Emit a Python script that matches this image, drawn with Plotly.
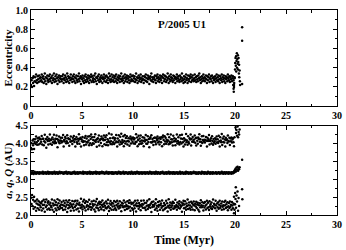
import plotly.graph_objects as go

# ---------------- data ----------------
# main integration output, sampled every 0.05 Myr from 0 to ~19.95 Myr
time_step_myr = 0.05

ecc_main = [
0.22,0.27,0.20,0.29,0.24,0.31,0.21,0.26,0.30,0.25,0.33,0.27,0.24,0.31,0.28,0.25,0.32,0.29,0.26,0.30,
0.27,0.33,0.25,0.29,0.31,0.24,0.28,0.34,0.26,0.30,0.23,0.29,0.32,0.27,0.25,0.31,0.28,0.33,0.26,0.29,
0.30,0.24,0.32,0.27,0.29,0.34,0.25,0.28,0.31,0.26,0.33,0.29,0.23,0.30,0.27,0.32,0.25,0.29,0.31,0.28,
0.26,0.31,0.28,0.33,0.24,0.29,0.27,0.32,0.30,0.25,0.28,0.34,0.26,0.31,0.29,0.24,0.30,0.27,0.33,0.28,
0.29,0.25,0.31,0.28,0.33,0.26,0.30,0.24,0.29,0.32,0.27,0.25,0.31,0.28,0.34,0.26,0.29,0.31,0.23,0.30,
0.28,0.32,0.26,0.29,0.24,0.31,0.27,0.33,0.25,0.30,0.28,0.26,0.32,0.29,0.24,0.31,0.27,0.30,0.33,0.25,
0.31,0.27,0.29,0.25,0.32,0.28,0.34,0.26,0.30,0.23,0.29,0.31,0.27,0.33,0.25,0.28,0.30,0.26,0.32,0.29,
0.24,0.30,0.28,0.33,0.26,0.29,0.31,0.25,0.32,0.27,0.30,0.24,0.29,0.34,0.27,0.31,0.25,0.28,0.33,0.26,
0.30,0.27,0.32,0.25,0.29,0.31,0.26,0.33,0.28,0.24,0.30,0.27,0.32,0.29,0.25,0.31,0.28,0.34,0.26,0.29,
0.27,0.31,0.24,0.29,0.33,0.26,0.30,0.28,0.32,0.25,0.29,0.31,0.27,0.24,0.30,0.33,0.26,0.28,0.31,0.27,
0.32,0.26,0.29,0.31,0.25,0.28,0.34,0.27,0.30,0.24,0.29,0.32,0.26,0.30,0.28,0.33,0.25,0.29,0.27,0.31,
0.28,0.24,0.31,0.27,0.30,0.33,0.26,0.29,0.25,0.32,0.28,0.30,0.23,0.29,0.31,0.27,0.34,0.26,0.30,0.28,
0.25,0.30,0.28,0.32,0.27,0.24,0.31,0.29,0.33,0.26,0.30,0.28,0.25,0.32,0.29,0.27,0.31,0.24,0.30,0.33,
0.29,0.26,0.32,0.28,0.31,0.25,0.30,0.27,0.34,0.29,0.24,0.31,0.28,0.26,0.33,0.30,0.27,0.29,0.25,0.32,
0.27,0.31,0.29,0.24,0.30,0.28,0.33,0.26,0.29,0.31,0.27,0.25,0.32,0.28,0.30,0.26,0.34,0.29,0.27,0.24,
0.31,0.28,0.25,0.30,0.33,0.27,0.29,0.24,0.32,0.28,0.26,0.31,0.29,0.33,0.25,0.30,0.27,0.32,0.28,0.26,
0.29,0.33,0.27,0.30,0.25,0.31,0.28,0.26,0.32,0.29,0.34,0.27,0.30,0.24,0.28,0.31,0.26,0.29,0.33,0.27,
0.30,0.26,0.29,0.32,0.28,0.24,0.31,0.27,0.30,0.33,0.25,0.29,0.28,0.31,0.26,0.32,0.29,0.24,0.30,0.27,
0.28,0.31,0.25,0.29,0.33,0.27,0.30,0.26,0.32,0.28,0.24,0.31,0.29,0.27,0.33,0.25,0.30,0.28,0.32,0.26,
0.29,0.24,0.31,0.28,0.30,0.26,0.33,0.29,0.27,0.31,0.25,0.30,0.28,0.32,0.26,0.29,0.31,0.27,0.22,0.29,
]

a_main = [
3.18,3.16,3.20,3.17,3.19,3.15,3.18,3.21,3.17,3.19,3.16,3.18,3.20,3.17,3.19,3.18,3.16,3.20,3.18,3.17,
3.19,3.17,3.18,3.21,3.16,3.19,3.18,3.17,3.20,3.18,3.16,3.19,3.17,3.21,3.18,3.16,3.19,3.20,3.17,3.18,
3.17,3.20,3.16,3.18,3.19,3.17,3.21,3.18,3.16,3.19,3.18,3.20,3.17,3.16,3.19,3.18,3.21,3.17,3.18,3.19,
3.20,3.18,3.17,3.19,3.16,3.18,3.20,3.17,3.19,3.21,3.18,3.16,3.19,3.17,3.20,3.18,3.17,3.19,3.16,3.18,
3.16,3.19,3.18,3.20,3.17,3.21,3.18,3.16,3.19,3.17,3.18,3.20,3.16,3.19,3.18,3.17,3.20,3.18,3.19,3.17,
3.18,3.17,3.21,3.16,3.19,3.18,3.20,3.17,3.18,3.19,3.16,3.20,3.18,3.17,3.19,3.21,3.16,3.18,3.20,3.17,
3.19,3.16,3.18,3.20,3.17,3.19,3.18,3.21,3.16,3.18,3.20,3.17,3.19,3.18,3.16,3.20,3.17,3.19,3.18,3.21,
3.17,3.19,3.20,3.18,3.16,3.18,3.19,3.17,3.21,3.18,3.17,3.19,3.16,3.20,3.18,3.17,3.19,3.18,3.20,3.16,
3.20,3.18,3.16,3.19,3.18,3.17,3.20,3.19,3.17,3.16,3.19,3.18,3.21,3.17,3.18,3.20,3.16,3.19,3.17,3.18,
3.18,3.21,3.17,3.16,3.19,3.18,3.20,3.17,3.19,3.18,3.16,3.17,3.20,3.18,3.19,3.16,3.18,3.21,3.17,3.19,
3.16,3.18,3.19,3.17,3.20,3.16,3.18,3.19,3.21,3.17,3.18,3.20,3.16,3.19,3.17,3.18,3.20,3.17,3.16,3.19,
3.19,3.17,3.18,3.20,3.16,3.19,3.17,3.18,3.20,3.19,3.16,3.18,3.17,3.21,3.19,3.18,3.16,3.20,3.18,3.17,
3.17,3.20,3.18,3.16,3.19,3.21,3.17,3.18,3.16,3.20,3.19,3.17,3.18,3.16,3.20,3.18,3.19,3.17,3.21,3.18,
3.18,3.16,3.19,3.17,3.18,3.20,3.16,3.19,3.18,3.17,3.21,3.19,3.16,3.18,3.20,3.17,3.18,3.19,3.16,3.20,
3.20,3.17,3.16,3.19,3.18,3.17,3.20,3.18,3.16,3.19,3.17,3.18,3.21,3.16,3.19,3.18,3.17,3.20,3.18,3.16,
3.17,3.19,3.18,3.16,3.21,3.18,3.17,3.20,3.19,3.16,3.18,3.17,3.19,3.20,3.16,3.18,3.19,3.17,3.18,3.21,
3.19,3.18,3.17,3.20,3.16,3.18,3.19,3.17,3.16,3.20,3.18,3.19,3.17,3.18,3.16,3.21,3.19,3.18,3.17,3.20,
3.16,3.20,3.18,3.17,3.19,3.16,3.18,3.21,3.17,3.19,3.18,3.16,3.20,3.17,3.18,3.19,3.16,3.20,3.18,3.17,
3.18,3.17,3.20,3.19,3.16,3.18,3.17,3.19,3.20,3.18,3.16,3.19,3.17,3.18,3.21,3.17,3.19,3.16,3.18,3.20,
3.19,3.16,3.18,3.20,3.17,3.19,3.18,3.16,3.20,3.18,3.17,3.19,3.18,3.16,3.20,3.19,3.17,3.18,3.22,3.24,
]

# escape phase (after ~19.8 Myr)
t_tail_e = [19.82,19.86,19.88,19.90,19.92,19.96,20.00,20.02,20.05,20.08,20.10,20.12,20.15,20.18,20.20,
            20.22,20.25,20.28,20.30,20.32,20.35,20.38,20.40,20.42,20.45,20.48,20.50,20.70,20.70,20.70]
e_tail = [0.22,0.18,0.15,0.20,0.24,0.30,0.38,0.45,0.50,0.42,0.52,0.36,0.47,0.55,0.40,
          0.49,0.44,0.53,0.38,0.46,0.50,0.34,0.43,0.30,0.37,0.26,0.22,0.82,0.68,0.23]

t_tail_Q = [20.05,20.10,20.15,20.20,20.25,20.30,20.35,20.40,20.45]
Q_tail = [4.45,4.30,4.38,4.22,4.48,4.18,4.33,4.26,4.40]

t_tail_a = [19.95,20.00,20.05,20.10,20.15,20.20,20.25,20.30,20.35,20.40,20.45,20.70]
a_tail = [3.20,3.26,3.30,3.22,3.33,3.27,3.35,3.24,3.31,3.28,3.34,3.55]

t_tail_q = [19.90,19.95,20.00,20.02,20.05,20.08,20.10,20.15,20.20,20.25,20.30,20.35,20.40,20.70,20.72]
q_tail = [2.05,2.15,2.30,2.62,2.45,2.78,2.20,2.55,2.38,2.66,2.12,2.48,2.25,2.72,2.44]

x_ticks = [0, 5, 10, 15, 20, 25, 30]
e_ticks = [0, 0.2, 0.4, 0.6, 0.8, 1.0]
e_ticktext = ["0", "0.2", "0.4", "0.6", "0.8", "1.0"]
aqQ_ticks = [2.0, 2.5, 3.0, 3.5, 4.0, 4.5]
aqQ_ticktext = ["2.0", "2.5", "3.0", "3.5", "4.0", "4.5"]

# ---------------- derived ----------------
n = min(len(ecc_main), len(a_main))
t_main = [round(i * time_step_myr, 2) for i in range(n)]
ecc = ecc_main[:n]
a_vals = a_main[:n]
q_main = [a * (1 - e) for a, e in zip(a_vals, ecc)]
Q_main = [a * (1 + e) for a, e in zip(a_vals, ecc)]

FONT = "Liberation Serif"
mk = dict(color="black", size=2.5, line=dict(width=0))

fig = go.Figure()
fig.add_trace(go.Scatter(x=t_main, y=ecc, mode="markers", marker=mk, xaxis="x", yaxis="y"))
fig.add_trace(go.Scatter(x=t_tail_e, y=e_tail, mode="markers", marker=mk, xaxis="x", yaxis="y"))

fig.add_trace(go.Scatter(x=t_main, y=Q_main, mode="markers", marker=mk, xaxis="x2", yaxis="y2"))
fig.add_trace(go.Scatter(x=t_main, y=a_vals, mode="markers", marker=mk, xaxis="x2", yaxis="y2"))
fig.add_trace(go.Scatter(x=t_main, y=q_main, mode="markers", marker=mk, xaxis="x2", yaxis="y2"))
fig.add_trace(go.Scatter(x=t_tail_Q, y=Q_tail, mode="markers", marker=mk, xaxis="x2", yaxis="y2"))
fig.add_trace(go.Scatter(x=t_tail_a, y=a_tail, mode="markers", marker=mk, xaxis="x2", yaxis="y2"))
fig.add_trace(go.Scatter(x=t_tail_q, y=q_tail, mode="markers", marker=mk, xaxis="x2", yaxis="y2"))

tickfont = dict(family=FONT, size=10, color="black", weight="bold")
axis_common = dict(showline=True, linecolor="black", linewidth=1, mirror="allticks",
                   ticks="inside", ticklen=4, tickwidth=1, tickcolor="black",
                   showgrid=False, zeroline=False, tickfont=tickfont,
                   ticklabeloverflow="allow")

fig.update_layout(
    width=346, height=250,
    margin=dict(l=31, r=4, t=6, b=35),
    plot_bgcolor="white", paper_bgcolor="white",
    showlegend=False,
    hovermode=False,
    xaxis=dict(domain=[0, 1], range=[0, 30], tickvals=x_ticks, anchor="y",
               minor=dict(ticks="inside", ticklen=2.5, dtick=2.5, tickcolor="black"),
               **axis_common),
    yaxis=dict(domain=[0.531, 1], range=[0, 1.0], tickvals=e_ticks, ticktext=e_ticktext,
               anchor="x",
               minor=dict(ticks="inside", ticklen=2.5, dtick=0.1, tickcolor="black"),
               **axis_common),
    xaxis2=dict(domain=[0, 1], range=[0, 30], tickvals=x_ticks, anchor="y2",
                minor=dict(ticks="inside", ticklen=2.5, dtick=2.5, tickcolor="black"),
                **axis_common),
    yaxis2=dict(domain=[0, 0.435], range=[2.0, 4.5], tickvals=aqQ_ticks, ticktext=aqQ_ticktext,
                anchor="x2",
                minor=dict(ticks="inside", ticklen=2.5, dtick=0.25, tickcolor="black"),
                **axis_common),
)

title_font = dict(family=FONT, size=11, color="black", weight="bold")
fig.add_annotation(text="P/2005 U1", x=14.8, y=0.85, xref="x", yref="y",
                   showarrow=False, font=dict(family=FONT, size=11, color="black", weight="bold"))
fig.add_annotation(text="Eccentricity", x=-0.074, y=0.7655, xref="paper", yref="paper",
                   textangle=-90, showarrow=False, font=title_font,
                   xanchor="center", yanchor="middle")
fig.add_annotation(text="<i>a</i>, <i>q</i>, <i>Q</i> (AU)", x=-0.074, y=0.2175,
                   xref="paper", yref="paper",
                   textangle=-90, showarrow=False, font=title_font,
                   xanchor="center", yanchor="middle")
fig.add_annotation(text="Time (Myr)", x=0.5, y=-0.12, xref="paper", yref="paper",
                   showarrow=False, font=dict(family=FONT, size=12, color="black", weight="bold"),
                   xanchor="center", yanchor="middle")

fig.write_html("out.html",
               config={"displayModeBar": False, "staticPlot": True},
               post_script="document.body.style.margin='0';document.body.style.padding='0';")
